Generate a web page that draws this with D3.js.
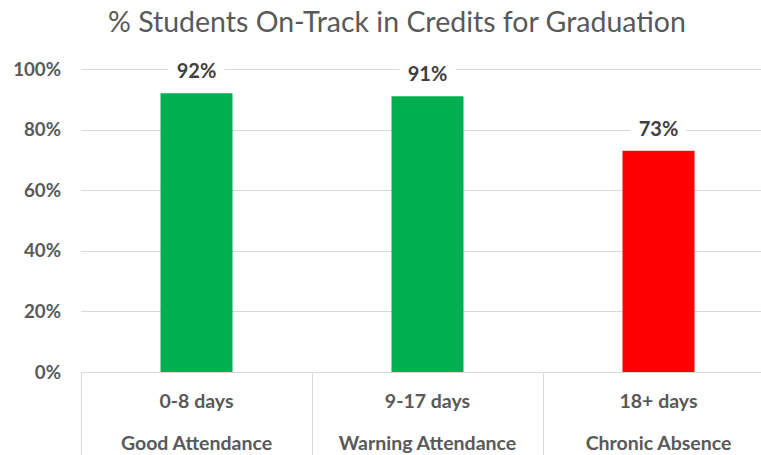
<!DOCTYPE html>
<html>
<head>
<meta charset="utf-8">
<script src="https://cdn.jsdelivr.net/npm/d3@7"></script>
<style>
  html, body { margin: 0; padding: 0; background: #fff; }
  svg { display: block; }
</style>
</head>
<body>
<svg id="chart" width="761" height="455"></svg>
<script>
const title = "% Students On-Track in Credits for Graduation";
const dayRanges = ["0-8 days", "9-17 days", "18+ days"];
const groups = ["Good Attendance", "Warning Attendance", "Chronic Absence"];
const values = [0.92, 0.91, 0.73];
const barColors = ["#00b050", "#00b050", "#ff0000"];
const yTicks = [0, 0.2, 0.4, 0.6, 0.8, 1.0];

(function () {
const svg = d3.select("#chart");
const W = 761, H = 455;
const mLeft = 81, mRight = 774, mTop = 69, mBottom = 372;
const font = "Lato, 'Open Sans', sans-serif";

const x = d3.scaleBand().domain(dayRanges).range([mLeft, mRight]).paddingInner(0).paddingOuter(0);
const y = d3.scaleLinear().domain([0, 1]).range([mBottom, mTop]);
const barW = 72;

// title
svg.append("text")
  .attr("x", 397).attr("y", 32)
  .attr("text-anchor", "middle")
  .attr("font-family", font)
  .attr("font-size", 28.5)
  .attr("fill", "#595959")
  .text(title);

// gridlines
svg.append("g").selectAll("line")
  .data(yTicks.filter(d => d > 0))
  .join("line")
  .attr("x1", mLeft).attr("x2", mRight)
  .attr("y1", d => Math.round(y(d)) + 0.5).attr("y2", d => Math.round(y(d)) + 0.5)
  .attr("stroke", "#d9d9d9").attr("stroke-width", 1);

// y labels
svg.append("g").selectAll("text")
  .data(yTicks)
  .join("text")
  .attr("x", 61).attr("y", d => y(d))
  .attr("dy", "0.35em")
  .attr("text-anchor", "end")
  .attr("font-family", font)
  .attr("font-weight", "bold")
  .attr("font-size", 18.7)
  .attr("fill", "#595959")
  .text(d => d3.format(".0%")(d));

// bars
svg.append("g").selectAll("rect")
  .data(values)
  .join("rect")
  .attr("x", (d, i) => x(dayRanges[i]) + x.bandwidth() / 2 - barW / 2)
  .attr("y", d => y(d))
  .attr("width", barW)
  .attr("height", d => y(0) - y(d))
  .attr("fill", (d, i) => barColors[i]);

// value labels with white background
const vl = svg.append("g").selectAll("g")
  .data(values)
  .join("g")
  .attr("transform", (d, i) => `translate(${x(dayRanges[i]) + x.bandwidth() / 2},${y(d) - 22})`);
vl.append("rect")
  .attr("x", -28).attr("y", -12).attr("width", 56).attr("height", 24)
  .attr("fill", "#fff");
vl.append("text")
  .attr("text-anchor", "middle")
  .attr("dy", "0.35em")
  .attr("font-family", font)
  .attr("font-weight", "bold")
  .attr("font-size", 20)
  .attr("fill", "#404040")
  .text(d => d3.format(".0%")(d));

// axis line
svg.append("line")
  .attr("x1", mLeft).attr("x2", mRight)
  .attr("y1", mBottom + 0.5).attr("y2", mBottom + 0.5)
  .attr("stroke", "#d9d9d9");

// category separators
svg.append("g").selectAll("line")
  .data(dayRanges)
  .join("line")
  .attr("x1", d => Math.round(x(d)) + 0.5).attr("x2", d => Math.round(x(d)) + 0.5)
  .attr("y1", mBottom).attr("y2", H)
  .attr("stroke", "#d9d9d9");

// category labels
svg.append("g").selectAll("text")
  .data(dayRanges)
  .join("text")
  .attr("x", d => x(d) + x.bandwidth() / 2)
  .attr("y", 401).attr("dy", "0.35em")
  .attr("text-anchor", "middle")
  .attr("font-family", font)
  .attr("font-weight", "bold")
  .attr("font-size", 19.5)
  .attr("fill", "#595959")
  .text(d => d);

svg.append("g").selectAll("text")
  .data(groups)
  .join("text")
  .attr("x", (d, i) => x(dayRanges[i]) + x.bandwidth() / 2)
  .attr("y", 443).attr("dy", "0.35em")
  .attr("text-anchor", "middle")
  .attr("font-family", font)
  .attr("font-weight", "bold")
  .attr("font-size", 19.5)
  .attr("fill", "#595959")
  .text(d => d);
})();
</script>
</body>
</html>
